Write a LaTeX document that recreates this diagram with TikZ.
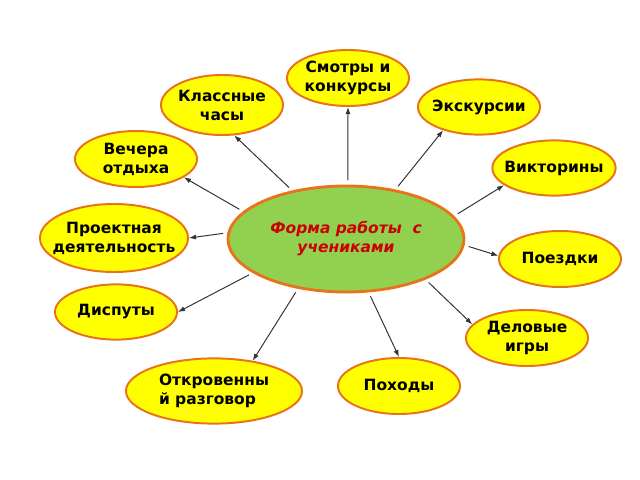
\documentclass[tikz,border=0pt]{standalone}
\usepackage{fontspec}
\setmainfont{DejaVu Sans}
\usepackage{tikz}
\usetikzlibrary{shapes.geometric,arrows.meta}
\definecolor{rim}{HTML}{E8731A}
\definecolor{sun}{HTML}{FFFF00}
\definecolor{leaf}{HTML}{92D050}
\definecolor{ink}{HTML}{CC0000}
\definecolor{wire}{HTML}{333333}
\tikzset{
  form/.style={ellipse, draw=rim, line width=1.4pt, fill=sun, inner sep=0pt,
    minimum width=3.05cm, minimum height=1.4cm},
  hub/.style={ellipse, draw=rim, line width=2pt, fill=leaf, inner sep=0pt},
  txt/.style={font=\fontsize{11}{13.5}\selectfont\bfseries, align=center},
  hubtxt/.style={font=\fontsize{11}{13.5}\selectfont\bfseries\itshape, text=ink, align=center},
  link/.style={draw=wire, line width=0.7pt, -{Latex[length=5pt,width=3.6pt]}, shorten <=3pt},
}
\begin{document}
\begin{tikzpicture}[x=0.025cm,y=-0.025cm]
  \useasboundingbox (0,0) rectangle (640,480);
  % centre
  \node[hub,minimum width=5.9cm,minimum height=2.65cm,
    label={[hubtxt]center:Форма работы~ с\\учениками}] (c) at (346,239) {};
  % forms
  \node[form,label={[txt]center:Смотры и\\конкурсы}] (smotr) at (348,78) {};
  \node[form,minimum height=1.5cm,label={[txt]center:Классные\\часы}] (klass) at (222,105) {};
  \node[form,minimum height=1.38cm,label={[txt]center:Экскурсии}] (ekskur) at (479,107) {};
  \node[form,label={[txt]center:Вечера\\отдыха}] (vecher) at (136,159) {};
  \node[form,minimum width=3.08cm,minimum height=1.38cm,label={[txt]center:Викторины}] (viktor) at (554,168) {};
  \node[form,minimum width=3.7cm,minimum height=1.7cm,label={[txt]center:Проектная\\деятельность}] (proekt) at (114,238) {};
  \node[form,label={[txt]center:Поездки}] (poezd) at (560,259) {};
  \node[form,minimum height=1.38cm,label={[txt]center:Диспуты}] (disput) at (116,312) {};
  \node[form,label={[txt]center:Деловые\\игры}] (delov) at (527,338) {};
  \node[form,minimum width=4.4cm,minimum height=1.63cm,label={[txt,align=left]center:Откровенны\\й разговор}] (otkrov) at (214,391) {};
  \node[form,label={[txt]center:Походы}] (pohod) at (399,386) {};
  % links
  \draw[link] (c.88) -- (smotr.south);
  \draw[link] (c.138) -- (klass.-68);
  \draw[link] (c.45) -- (ekskur.213);
  \draw[link] (c.165) -- (vecher.-21);
  \draw[link] (c.12) -- (viktor.199);
  \draw[link] (c.177) -- (proekt.east);
  \draw[link] (c.-3) -- (poezd.177);
  \draw[link] (c.200) -- (disput.east);
  \draw[link] (c.-27) -- (delov.166);
  \draw[link] (c.226) -- (otkrov.38);
  \draw[link] (c.-67) -- (pohod.north);
\end{tikzpicture}
\end{document}
